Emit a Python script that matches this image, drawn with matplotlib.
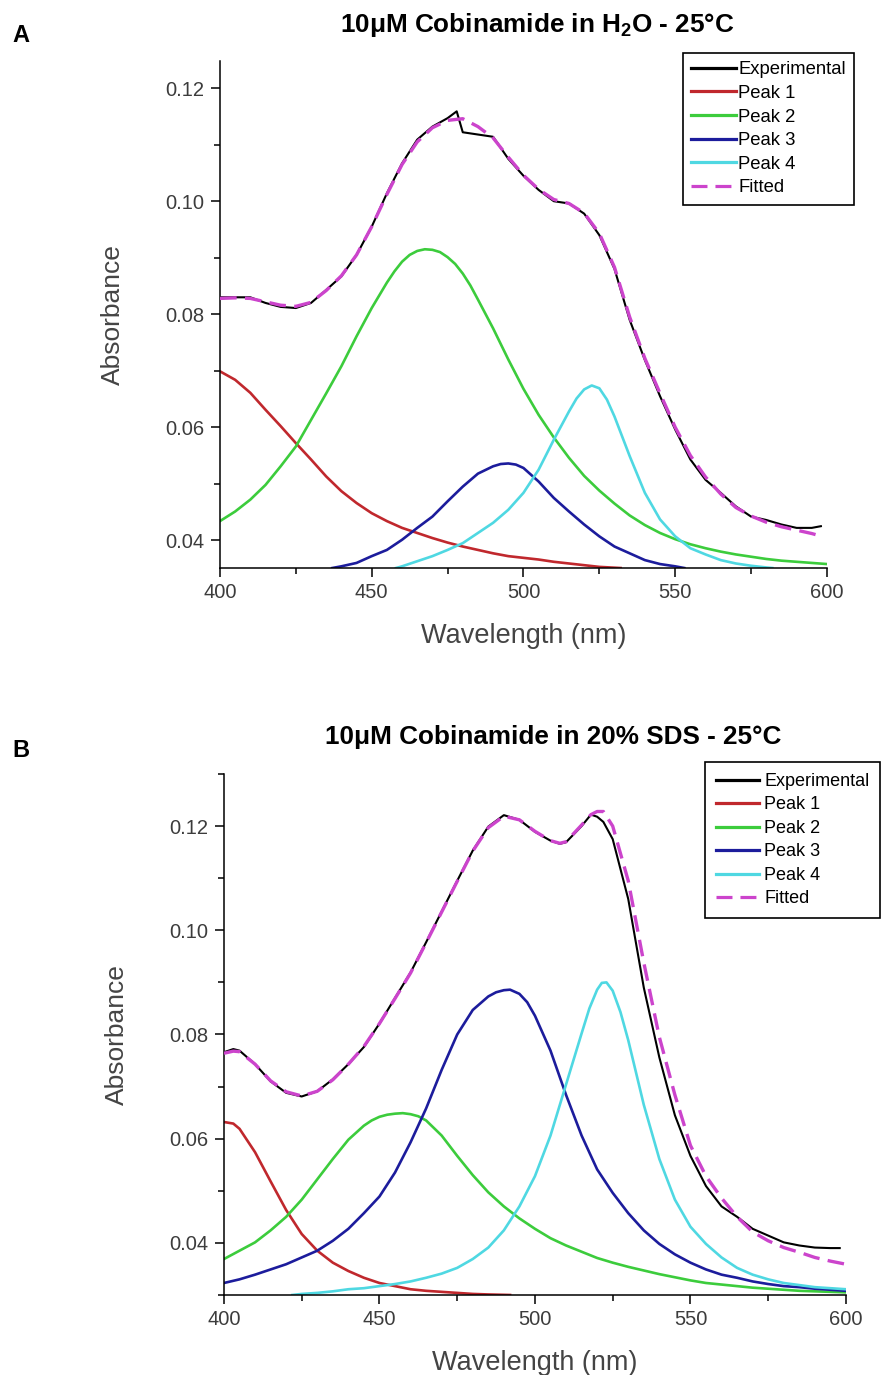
import numpy as np
import matplotlib
matplotlib.use("Agg")
import matplotlib.pyplot as plt
from matplotlib.ticker import MultipleLocator, FormatStrFormatter

plt.rcParams['font.family'] = ['Liberation Sans', 'DejaVu Sans']
plt.rcParams['mathtext.fontset'] = 'custom'
plt.rcParams['mathtext.rm'] = 'Liberation Sans'
plt.rcParams['mathtext.bf'] = 'Liberation Sans:bold'

# ---------------- Panel A: H2O ----------------
a_exp_wl = [400, 405, 410, 415, 420, 425, 430, 435, 440, 445, 450, 455, 460, 465, 470, 475,
            478, 480, 485, 490, 495, 500, 505, 510, 515, 520, 525, 530, 535, 540, 545, 550,
            555, 560, 565, 570, 575, 580, 585, 590, 595, 598]
a_exp = [0.0830, 0.0830, 0.0830, 0.0820, 0.0813, 0.0811, 0.0820, 0.0843, 0.0867, 0.0905,
         0.0955, 0.1014, 0.1067, 0.1109, 0.1132, 0.1147, 0.1159, 0.1122, 0.1118, 0.1114,
         0.1075, 0.1045, 0.1020, 0.1000, 0.0996, 0.0978, 0.0940, 0.0880, 0.0790, 0.0719,
         0.0655, 0.0596, 0.0543, 0.0507, 0.0484, 0.0460, 0.0442, 0.0436, 0.0428, 0.0422,
         0.0422, 0.0425]
a_fit_wl = [400, 405, 410, 415, 420, 425, 430, 435, 440, 445, 450, 455, 460, 465, 470, 475,
            480, 485, 490, 495, 500, 505, 510, 515, 520, 525, 530, 535, 540, 545, 550, 555,
            560, 565, 570, 575, 580, 585, 590, 595, 597]
a_fit = [0.0828, 0.0829, 0.0828, 0.0822, 0.0816, 0.0814, 0.0821, 0.0842, 0.0868, 0.0905,
         0.0955, 0.1012, 0.1065, 0.1105, 0.1130, 0.1143, 0.1146, 0.1132, 0.1112, 0.1078,
         0.1046, 0.1021, 0.1003, 0.0996, 0.0979, 0.0943, 0.0883, 0.0795, 0.0722, 0.0660,
         0.0600, 0.0550, 0.0512, 0.0482, 0.0458, 0.0443, 0.0432, 0.0424, 0.0418, 0.0412,
         0.0409]
a_p1_wl = [400, 405, 410, 415, 420, 425, 430, 435, 440, 445, 450, 455, 460, 465, 470, 475,
           480, 485, 490, 495, 500, 505, 510, 515, 520, 525, 532]
a_p1 = [0.0699, 0.0684, 0.0661, 0.0631, 0.0602, 0.0572, 0.0543, 0.0513, 0.0487, 0.0466,
        0.0448, 0.0434, 0.0422, 0.0413, 0.0404, 0.0396, 0.0389, 0.0383, 0.0377, 0.0372,
        0.0369, 0.0366, 0.0362, 0.0359, 0.0356, 0.0353, 0.0351]
a_p2_wl = [400, 405, 410, 415, 420, 425, 430, 435, 440, 445, 450, 455, 457.5, 460, 462.5,
           465, 467.5, 470, 472.5, 475, 477.5, 480, 482.5, 485, 490, 495, 500, 505, 510, 515,
           520, 525, 530, 535, 540, 545, 550, 555, 560, 565, 570, 575, 580, 585, 590, 595, 600]
a_p2 = [0.0434, 0.0451, 0.0472, 0.0498, 0.0531, 0.0566, 0.0613, 0.0660, 0.0708, 0.0761,
        0.0811, 0.0856, 0.0876, 0.0893, 0.0905, 0.0912, 0.0915, 0.0914, 0.0910, 0.0901,
        0.0889, 0.0872, 0.0851, 0.0826, 0.0775, 0.0720, 0.0668, 0.0622, 0.0582, 0.0546,
        0.0514, 0.0488, 0.0465, 0.0444, 0.0427, 0.0413, 0.0402, 0.0393, 0.0386, 0.0380,
        0.0375, 0.0371, 0.0367, 0.0364, 0.0362, 0.0360, 0.0358]
a_p3_wl = [437, 440, 445, 450, 455, 460, 465, 470, 475, 480, 485, 490, 492.5, 495, 497.5,
           500, 505, 510, 515, 520, 525, 530, 535, 540, 545, 550, 553]
a_p3 = [0.0351, 0.0354, 0.0360, 0.0372, 0.0383, 0.0401, 0.0422, 0.0442, 0.0469, 0.0495,
        0.0518, 0.0531, 0.0535, 0.0536, 0.0534, 0.0528, 0.0504, 0.0475, 0.0451, 0.0428,
        0.0407, 0.0389, 0.0377, 0.0365, 0.0358, 0.0354, 0.0351]
a_p4_wl = [458, 460, 465, 470, 475, 480, 485, 490, 495, 500, 505, 510, 515, 517.5, 520,
           522.5, 525, 527.5, 530, 535, 540, 545, 550, 555, 560, 565, 570, 575, 580, 582]
a_p4 = [0.0351, 0.0354, 0.0363, 0.0372, 0.0383, 0.0395, 0.0413, 0.0431, 0.0454, 0.0484,
        0.0525, 0.0578, 0.0628, 0.0651, 0.0667, 0.0674, 0.0669, 0.0649, 0.0619, 0.0549,
        0.0484, 0.0437, 0.0407, 0.0386, 0.0375, 0.0365, 0.0359, 0.0355, 0.0352, 0.0351]

# ---------------- Panel B: 20% SDS ----------------
b_exp_wl = [400, 403, 405, 410, 415, 420, 425, 430, 435, 440, 445, 450, 455, 460, 465, 470,
            475, 480, 485, 490, 495, 500, 505, 508, 510, 515, 518, 520, 522, 525, 530, 535,
            540, 545, 550, 555, 560, 565, 570, 575, 580, 585, 590, 595, 598]
b_exp = [0.0766, 0.0772, 0.0769, 0.0743, 0.0710, 0.0688, 0.0681, 0.0691, 0.0714, 0.0743,
         0.0776, 0.0821, 0.0870, 0.0919, 0.0977, 0.1036, 0.1095, 0.1153, 0.1199, 0.1221,
         0.1212, 0.1189, 0.1172, 0.1166, 0.1169, 0.1200, 0.1222, 0.1218, 0.1208, 0.1175,
         0.1060, 0.0890, 0.0756, 0.0645, 0.0567, 0.0509, 0.0470, 0.0450, 0.0427, 0.0414,
         0.0401, 0.0395, 0.0391, 0.0390, 0.0390]
b_fit_wl = [400, 403, 405, 410, 415, 420, 425, 430, 435, 440, 445, 450, 455, 460, 465, 470,
            475, 480, 485, 490, 495, 500, 505, 508, 510, 515, 518, 520, 522, 525, 530, 535,
            540, 545, 550, 555, 560, 565, 570, 575, 580, 585, 590, 595, 600]
b_fit = [0.0764, 0.0768, 0.0767, 0.0743, 0.0711, 0.0690, 0.0682, 0.0691, 0.0713, 0.0743,
         0.0777, 0.0821, 0.0869, 0.0918, 0.0976, 0.1035, 0.1094, 0.1152, 0.1197, 0.1219,
         0.1212, 0.1190, 0.1172, 0.1167, 0.1170, 0.1202, 0.1222, 0.1228, 0.1228, 0.1200,
         0.1095, 0.0938, 0.0795, 0.0684, 0.0587, 0.0528, 0.0486, 0.0450, 0.0421, 0.0404,
         0.0391, 0.0382, 0.0372, 0.0365, 0.0359]
b_p1_wl = [400, 403, 405, 410, 415, 420, 425, 430, 435, 440, 445, 450, 455, 460, 465, 470,
           475, 480, 485, 492]
b_p1 = [0.0632, 0.0629, 0.0619, 0.0574, 0.0518, 0.0463, 0.0417, 0.0385, 0.0362, 0.0346,
        0.0333, 0.0323, 0.0317, 0.0311, 0.0308, 0.0306, 0.0304, 0.0302, 0.0301, 0.0300]
b_p2_wl = [400, 405, 410, 415, 420, 425, 430, 435, 440, 445, 447.5, 450, 452.5, 455, 457.5,
           460, 462.5, 465, 470, 475, 480, 485, 490, 495, 500, 505, 510, 515, 520, 525, 530,
           535, 540, 545, 550, 555, 560, 565, 570, 575, 580, 585, 590, 595, 600]
b_p2 = [0.0369, 0.0385, 0.0401, 0.0424, 0.0450, 0.0483, 0.0522, 0.0561, 0.0598, 0.0625,
        0.0635, 0.0642, 0.0646, 0.0648, 0.0649, 0.0647, 0.0643, 0.0635, 0.0606, 0.0567,
        0.0530, 0.0497, 0.0470, 0.0447, 0.0427, 0.0409, 0.0395, 0.0383, 0.0371, 0.0362,
        0.0354, 0.0347, 0.0340, 0.0334, 0.0328, 0.0323, 0.0320, 0.0317, 0.0314, 0.0312,
        0.0310, 0.0308, 0.0307, 0.0306, 0.0305]
b_p3_wl = [400, 405, 410, 415, 420, 425, 430, 435, 440, 445, 450, 455, 460, 465, 470, 475,
           480, 485, 487.5, 490, 492, 495, 497.5, 500, 505, 510, 515, 520, 525, 530, 535, 540,
           545, 550, 555, 560, 565, 570, 575, 580, 585, 590, 595, 600]
b_p3 = [0.0323, 0.0330, 0.0339, 0.0349, 0.0359, 0.0372, 0.0385, 0.0404, 0.0427, 0.0457,
        0.0489, 0.0535, 0.0593, 0.0658, 0.0732, 0.0800, 0.0847, 0.0873, 0.0881, 0.0885,
        0.0886, 0.0878, 0.0862, 0.0836, 0.0769, 0.0684, 0.0606, 0.0541, 0.0496, 0.0457,
        0.0424, 0.0398, 0.0378, 0.0362, 0.0349, 0.0339, 0.0333, 0.0326, 0.0321, 0.0317,
        0.0315, 0.0312, 0.0310, 0.0308]
b_p4_wl = [422, 425, 430, 435, 440, 445, 450, 455, 460, 465, 470, 475, 480, 485, 490, 495,
           500, 505, 510, 515, 517.5, 520, 521.5, 523, 525, 527.5, 530, 535, 540, 545, 550,
           555, 560, 565, 570, 575, 580, 585, 590, 595, 600]
b_p4 = [0.0300, 0.0302, 0.0304, 0.0307, 0.0311, 0.0313, 0.0317, 0.0321, 0.0326, 0.0333,
        0.0341, 0.0352, 0.0369, 0.0391, 0.0424, 0.0470, 0.0528, 0.0606, 0.0704, 0.0802,
        0.0850, 0.0886, 0.0899, 0.0900, 0.0884, 0.0843, 0.0789, 0.0665, 0.0561, 0.0483,
        0.0431, 0.0398, 0.0372, 0.0352, 0.0339, 0.0330, 0.0323, 0.0319, 0.0315, 0.0313,
        0.0311]

labels = ["Experimental", "Peak 1", "Peak 2", "Peak 3", "Peak 4", "Fitted"]
colors = ["black", "#c0282d", "#3ccc3c", "#1c1c9c", "#4fd8e2", "#cc44cc"]

panels = [
    dict(exp=(a_exp_wl, a_exp), fit=(a_fit_wl, a_fit),
         peaks=[(a_p1_wl, a_p1), (a_p2_wl, a_p2), (a_p3_wl, a_p3), (a_p4_wl, a_p4)],
         ylim=(0.0351, 0.1248), rect=[0.2480, 0.5869, 0.6843, 0.3687],
         title=r"10μM Cobinamide in H$_\mathbf{2}$O - 25°C", tpos=(0.606, 0.982),
         letter="A", lpos=(0.014, 0.974), leg=(0.7700, 0.9615), legfs=13.3, tpad=0.15,
         bpad=0.45),
    dict(exp=(b_exp_wl, b_exp), fit=(b_fit_wl, b_fit),
         peaks=[(b_p1_wl, b_p1), (b_p2_wl, b_p2), (b_p3_wl, b_p3), (b_p4_wl, b_p4)],
         ylim=(0.030, 0.130), rect=[0.2525, 0.0582, 0.7012, 0.3789],
         title="10μM Cobinamide in 20% SDS - 25°C", tpos=(0.6235, 0.464),
         letter="B", lpos=(0.014, 0.4545), leg=(0.7950, 0.4458), legfs=13, tpad=0.28,
         bpad=0.6),
]

fig = plt.figure(figsize=(8.87, 13.75), dpi=100)

for p in panels:
    ax = fig.add_axes(p["rect"])
    ax.plot(*p["exp"], color=colors[0], lw=1.5, label=labels[0], zorder=3)
    for i, (wl, val) in enumerate(p["peaks"]):
        ax.plot(wl, val, color=colors[i + 1], lw=1.9, label=labels[i + 1], zorder=2)
    ax.plot(*p["fit"], color=colors[5], lw=2.4, dashes=(5, 2.5), label=labels[5], zorder=4)

    ax.set_xlim(400, 600)
    ax.set_ylim(*p["ylim"])
    ax.xaxis.set_major_locator(MultipleLocator(50))
    ax.xaxis.set_minor_locator(MultipleLocator(25))
    ax.yaxis.set_major_locator(MultipleLocator(0.02))
    ax.yaxis.set_minor_locator(MultipleLocator(0.01))
    ax.yaxis.set_major_formatter(FormatStrFormatter("%.2f"))
    ax.spines["top"].set_visible(False)
    ax.spines["right"].set_visible(False)
    for s in ["left", "bottom"]:
        ax.spines[s].set_linewidth(1.1)
    ax.tick_params(which="major", direction="out", length=6.5, width=1.1,
                   labelsize=14.5, labelcolor="#3c3c3c", pad=4.5)
    ax.tick_params(which="minor", direction="out", length=4.5, width=1.1)
    ax.set_xlabel("Wavelength (nm)", fontsize=19.5, color="#444444", labelpad=15)
    ax.set_ylabel("Absorbance", fontsize=19, color="#444444", labelpad=29)

    fig.text(*p["tpos"], p["title"], fontsize=18.8, fontweight="bold",
             ha="center", va="center")
    fig.text(*p["lpos"], p["letter"], fontsize=17, fontweight="bold",
             ha="left", va="center")

    leg = ax.legend(loc="upper left", bbox_to_anchor=p["leg"], bbox_transform=fig.transFigure,
                    fontsize=p["legfs"], frameon=True, fancybox=False, framealpha=1,
                    edgecolor="black", handlelength=2.4, handletextpad=p["tpad"],
                    labelspacing=0.36, borderpad=p["bpad"], borderaxespad=0)
    leg.get_frame().set_linewidth(1.2)
    for h in leg.get_lines():
        h.set_linewidth(2.3)

fig.savefig("out.png", dpi=100)
